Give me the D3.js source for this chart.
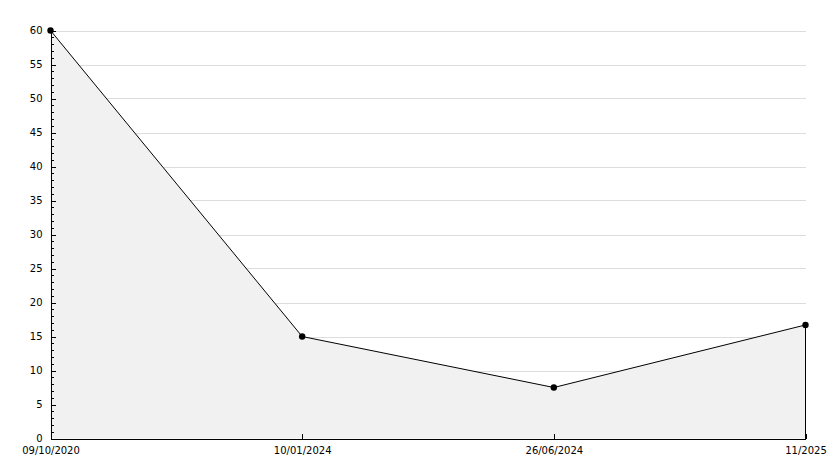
<!DOCTYPE html>
<html>
<head>
<meta charset="utf-8">
<script src="https://cdn.jsdelivr.net/npm/d3@7"></script>
<style>
  body { margin: 0; background: #fff; }
  svg { display: block; }
  .axis text { font-family: "DejaVu Sans", sans-serif; font-size: 10px; fill: #000; }
</style>
</head>
<body>
<script>
var width = 834;
var height = 468;

// data
var dates = ['09/10/2020', '10/01/2024', '26/06/2024', '11/2025'];
var values = [60, 15, 7.5, 16.7];
var yTicks = [0, 5, 10, 15, 20, 25, 30, 35, 40, 45, 50, 55, 60];

var margin = {left: 50.5, right: 805.5, top: 30.5, bottom: 438.5};

var svg = d3.select('body').append('svg')
            .attr('width', width)
            .attr('height', height);

var x = d3.scalePoint().domain(dates).range([margin.left, margin.right]);
var y = d3.scaleLinear().domain([0, 60]).range([margin.bottom, margin.top]);

var rows = dates.map((d, i) => ({date: d, value: values[i]}));

// grid
svg.append('g')
   .selectAll('line')
   .data(yTicks.filter(t => t > 0))
   .enter().append('line')
   .attr('x1', margin.left)
   .attr('x2', margin.right)
   .attr('y1', d => Math.round(y(d)) + 0.5)
   .attr('y2', d => Math.round(y(d)) + 0.5)
   .style('stroke', '#dddddd')
   .style('shape-rendering', 'crispEdges');

var area = d3.area()
             .x(d => x(d.date))
             .y0(y(0))
             .y1(d => y(d.value));

svg.append('path')
   .datum(rows)
   .attr('d', area)
   .style('fill', '#f1f1f1')
   .style('stroke', 'none');

// right side closing line
svg.append('line')
   .attr('x1', x(dates[dates.length - 1]))
   .attr('x2', x(dates[dates.length - 1]))
   .attr('y1', y(values[values.length - 1]))
   .attr('y2', y(0))
   .style('stroke', '#000')
   .style('shape-rendering', 'crispEdges');

var line = d3.line()
             .x(d => x(d.date))
             .y(d => y(d.value));

svg.append('path')
   .datum(rows)
   .attr('d', line)
   .style('fill', 'none')
   .style('stroke', '#000')
   .style('stroke-width', 1);

// minor y ticks
svg.append('g')
   .attr('class', 'axis')
   .attr('transform', 'translate(' + margin.left + ',0)')
   .call(d3.axisLeft(y).tickValues(d3.range(0, 61, 1)).tickSize(-3).tickFormat(''))
   .call(g => g.select('.domain').remove());

// major y axis
svg.append('g')
   .attr('class', 'axis')
   .attr('transform', 'translate(' + margin.left + ',0)')
   .call(d3.axisLeft(y).tickValues(yTicks).tickSize(-5).tickSizeOuter(0).tickPadding(8))
   .call(g => g.selectAll('text').attr('font-family', null).attr('font-size', null));

// x axis
svg.append('g')
   .attr('class', 'axis')
   .attr('transform', 'translate(0,' + margin.bottom + ')')
   .call(d3.axisBottom(x).tickSize(-5).tickSizeOuter(0).tickPadding(8))
   .call(g => g.selectAll('text').attr('font-family', null).attr('font-size', null));

svg.selectAll('.axis path, .axis line')
   .style('stroke', '#000')
   .style('shape-rendering', 'crispEdges');

// markers
svg.append('g')
   .selectAll('circle')
   .data(rows)
   .enter().append('circle')
   .attr('cx', d => x(d.date))
   .attr('cy', d => y(d.value))
   .attr('r', 3.2)
   .style('fill', '#000');
</script>
</body>
</html>
